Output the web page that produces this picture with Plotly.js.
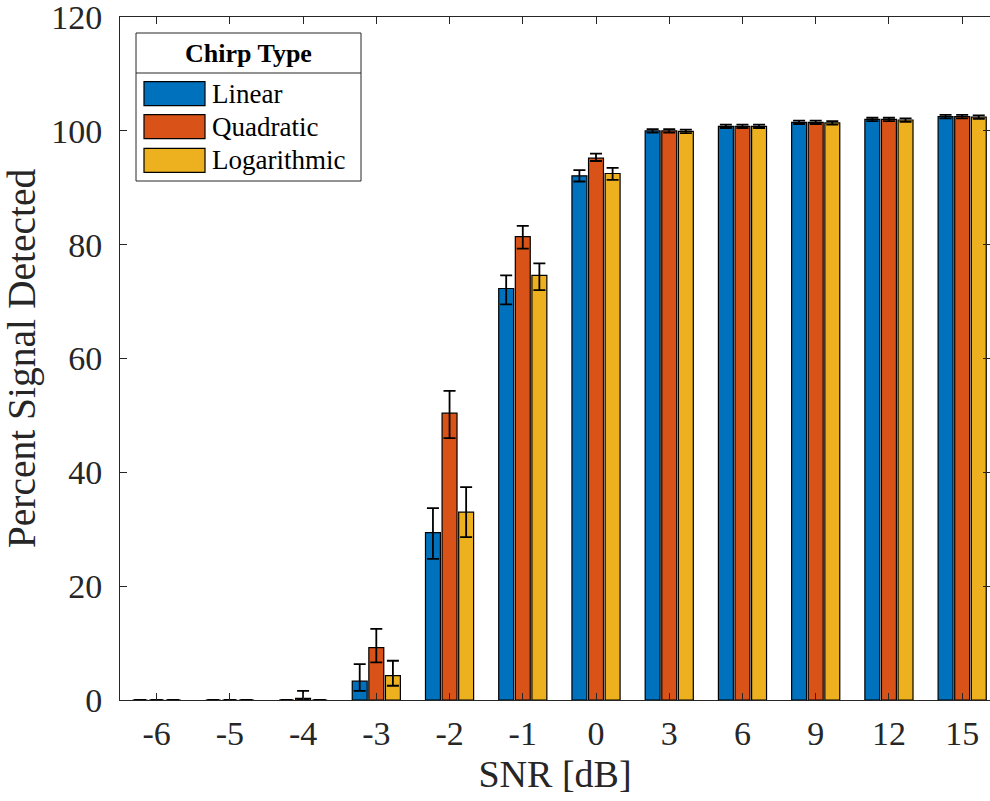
<!DOCTYPE html>
<html>
<head>
<meta charset="utf-8">
<script src="https://cdn.plot.ly/plotly-3.0.1.min.js"></script>
<style>html,body{margin:0;padding:0;background:#fff;}#chart{width:990px;height:801px;}</style>
</head>
<body>
<div id="chart"></div>
<script>
// ---- data ----
const snrLabels = ['-6','-5','-4','-3','-2','-1','0','3','6','9','12','15'];
const seriesNames = ['Linear','Quadratic','Logarithmic'];
const seriesColors = ['#0072BD','#D95319','#EDB120'];

const linearVals   = [0, 0, 0,   3.3, 29.4, 72.3, 92.1, 100.0, 100.8, 101.5, 102.0, 102.5];
const linearErrUp  = [0, 0, 0,   3.0, 4.3,  2.3,  1.0,  0.3,   0.3,   0.3,   0.3,   0.3];
const linearErrDn  = [0, 0, 0,   1.7, 4.6,  2.8,  1.0,  0.3,   0.3,   0.3,   0.3,   0.3];

const quadVals     = [0, 0, 0.3, 9.2, 50.4, 81.4, 95.2, 100.0, 100.8, 101.5, 102.0, 102.5];
const quadErrUp    = [0, 0, 1.3, 3.3, 3.9,  1.9,  0.8,  0.3,   0.3,   0.3,   0.3,   0.3];
const quadErrDn    = [0, 0, 0.3, 2.6, 4.4,  2.1,  0.5,  0.3,   0.3,   0.3,   0.3,   0.3];

const logVals      = [0, 0, 0,   4.3, 33.0, 74.6, 92.5, 99.9,  100.8, 101.4, 101.9, 102.4];
const logErrUp     = [0, 0, 0,   2.6, 4.4,  2.1,  1.0,  0.3,   0.3,   0.3,   0.3,   0.3];
const logErrDn     = [0, 0, 0,   1.8, 4.4,  2.6,  1.1,  0.3,   0.3,   0.3,   0.3,   0.3];

const yTicks = [0, 20, 40, 60, 80, 100, 120];
const legendTitle = 'Chirp Type';
const xTitle = 'SNR [dB]';
const yTitle = 'Percent Signal Detected';

// ---- build ----
const vals = [linearVals, quadVals, logVals];
const ups = [linearErrUp, quadErrUp, logErrUp];
const dns = [linearErrDn, quadErrDn, logErrDn];

const FONT = 'Liberation Serif, Times New Roman, serif';
const AX = '#262626';

const traces = seriesNames.map((n, i) => ({
  type: 'bar',
  name: n,
  x: snrLabels,
  y: vals[i],
  marker: {color: seriesColors[i], line: {color: '#000', width: 1.2}},
  error_y: {type: 'data', symmetric: false, array: ups[i], arrayminus: dns[i],
            color: '#000', thickness: 1.8, width: 6, visible: true},
  showlegend: false,
  hoverinfo: 'x+y'
}));

// plot area in pixels
const L = 120, R = 990, T = 17, B = 700;
const px = p => (p - L) / (R - L);
const py = p => (B - p) / (B - T);

const shapes = [];
const annotations = [];
// legend box
shapes.push({type: 'rect', xref: 'paper', yref: 'paper', x0: px(136), x1: px(361), y0: py(181), y1: py(33),
  fillcolor: '#fff', line: {color: AX, width: 1}, layer: 'above'});
shapes.push({type: 'line', xref: 'paper', yref: 'paper', x0: px(136), x1: px(361), y0: py(73), y1: py(73),
  line: {color: AX, width: 1}, layer: 'above'});
annotations.push({xref: 'paper', yref: 'paper', x: px(248.5), y: py(53), text: '<b>' + legendTitle + '</b>',
  showarrow: false, xanchor: 'center', yanchor: 'middle', font: {family: FONT, size: 26, color: '#000'}});
const rowCenters = [93.7, 126.7, 160.3];
seriesNames.forEach((n, i) => {
  const c = rowCenters[i];
  shapes.push({type: 'rect', xref: 'paper', yref: 'paper', x0: px(144), x1: px(205), y0: py(c + 12), y1: py(c - 12),
    fillcolor: seriesColors[i], line: {color: '#000', width: 1.2}, layer: 'above'});
  annotations.push({xref: 'paper', yref: 'paper', x: px(210), y: py(c), text: n, showarrow: false,
    xanchor: 'left', yanchor: 'middle', font: {family: FONT, size: 27, color: '#000'}});
});

const layout = {
  width: 990, height: 801,
  margin: {l: L, r: 990 - R, t: T, b: 801 - B, pad: 0},
  paper_bgcolor: '#fff', plot_bgcolor: '#fff',
  barmode: 'group', bargap: 0.32, bargroupgap: 0.1,
  font: {family: FONT, color: AX},
  xaxis: {
    type: 'category', range: [-0.5, 11.38],
    showline: true, linecolor: AX, linewidth: 1, mirror: 'ticks',
    ticks: 'inside', ticklen: 7, tickcolor: AX, tickwidth: 1,
    showgrid: false, zeroline: false,
    tickfont: {family: FONT, size: 34, color: AX},
    ticklabelstandoff: 3,
    title: {text: xTitle, font: {family: FONT, size: 38, color: AX}, standoff: 9},
    automargin: false
  },
  yaxis: {
    range: [0, 120], tickvals: yTicks, ticktext: yTicks.map(String),
    showline: true, linecolor: AX, linewidth: 1, mirror: 'ticks',
    ticks: 'inside', ticklen: 7, tickcolor: AX, tickwidth: 1,
    showgrid: false, zeroline: false,
    tickfont: {family: FONT, size: 34, color: AX},
    ticklabelstandoff: 10,
    ticklabeloverflow: 'allow',
    title: {text: yTitle, font: {family: FONT, size: 39.5, color: AX}, standoff: 3},
    automargin: false
  },
  shapes: shapes,
  annotations: annotations
};

Plotly.newPlot('chart', traces, layout, {displayModeBar: false, staticPlot: true});
</script>
</body>
</html>
